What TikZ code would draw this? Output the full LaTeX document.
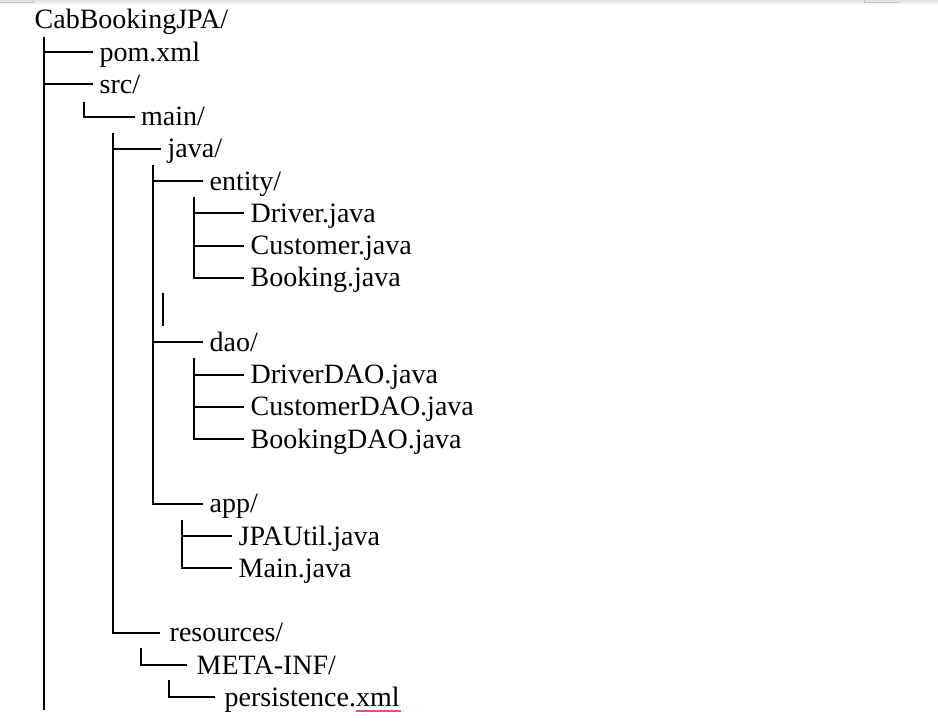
\documentclass[tikz,border=0pt]{standalone}
\usepackage{fontspec}
\setmainfont{Liberation Serif}
\usetikzlibrary{calc}

\begin{document}
\begin{tikzpicture}[x=1pt, y=-1pt,
    branch/.style={line width=2pt},
    entry/.style={anchor=west, inner xsep=6.5pt, inner ysep=0pt, text height=22pt, text depth=4pt, font=\fontsize{28}{32}\selectfont},
    wide/.style={inner xsep=9.5pt}]
    \definecolor{spellred}{RGB}{240,76,112}
    \definecolor{markgray}{RGB}{195,195,195}

    \useasboundingbox (0,0) rectangle (938,727);

    % page edge and corner marks
    \shade[top color=black!12, bottom color=white] (0,0) rectangle (938,5);
    \draw[color=markgray, line width=1pt] (0,3) -- (33,3) -- (33,0);
    \draw[color=markgray, line width=1pt] (864,0) -- (864,3) -- (900,3);

    \node[entry] (root) at (28,20) {CabBookingJPA/};
    \node[entry] (pom) at (93,52.25) {pom.xml};
    \node[entry] (src) at (93,84.5) {src/};
    \node[entry] (main) at (134.5,116.75) {main/};
    \node[entry] (java) at (161,149) {java/};
    \node[entry] (entity) at (203,181.25) {entity/};
    \node[entry] (driver) at (244,213.5) {Driver.java};
    \node[entry] (customer) at (244,245.75) {Customer.java};
    \node[entry] (booking) at (244,278) {Booking.java};
    \node[entry] (dao) at (203,342.5) {dao/};
    \node[entry] (driverdao) at (244,374.75) {DriverDAO.java};
    \node[entry] (customerdao) at (244,407) {CustomerDAO.java};
    \node[entry] (bookingdao) at (244,439.25) {BookingDAO.java};
    \node[entry] (app) at (203,503.75) {app/};
    \node[entry] (jpautil) at (232,536) {JPAUtil.java};
    \node[entry] (mainjava) at (232,568.25) {Main.java};
    \node[entry, wide] (resources) at (160,632.75) {resources/};
    \node[entry, wide] (metainf) at (187,665) {META-INF/};
    \node[entry, wide] (persistence) at (215,697.25) {persistence.xml};

    % root
    \coordinate (t0) at (43.5,37);
    \coordinate (t0end) at (43.5,710);
    \draw[branch] (t0) -- (t0end);
    \foreach \c in {pom, src} \draw[branch] (t0 |- \c.west) -- (\c.west);

    % src/
    \coordinate (t1) at (84,102);
    \draw[branch] (t1) |- (main.west);

    % main/
    \coordinate (t2) at (113,133);
    \draw[branch] (t2) |- (resources.west);
    \draw[branch] (t2 |- java.west) -- (java.west);

    % java/
    \coordinate (t3) at (153,165);
    \draw[branch] (t3) |- (app.west);
    \foreach \c in {entity, dao} \draw[branch] (t3 |- \c.west) -- (\c.west);

    % entity/
    \coordinate (t4) at (194,197);
    \draw[branch] (t4) |- (booking.west);
    \foreach \c in {driver, customer} \draw[branch] (t4 |- \c.west) -- (\c.west);

    \coordinate (bar) at (163,293);
    \coordinate (barend) at (163,326);
    \draw[branch] (bar) -- (barend);

    % dao/
    \coordinate (t5) at (194,358);
    \draw[branch] (t5) |- (bookingdao.west);
    \foreach \c in {driverdao, customerdao} \draw[branch] (t5 |- \c.west) -- (\c.west);

    % app/
    \coordinate (t6) at (182,520);
    \draw[branch] (t6) |- (mainjava.west);
    \draw[branch] (t6 |- jpautil.west) -- (jpautil.west);

    % resources/
    \coordinate (t7) at (141,648);
    \draw[branch] (t7) |- (metainf.west);
    \coordinate (t8) at (169,680);
    \draw[branch] (t8) |- (persistence.west);

    \draw[color=spellred, line width=1.8pt] (356,711) -- (401,711);

\end{tikzpicture}
\end{document}
